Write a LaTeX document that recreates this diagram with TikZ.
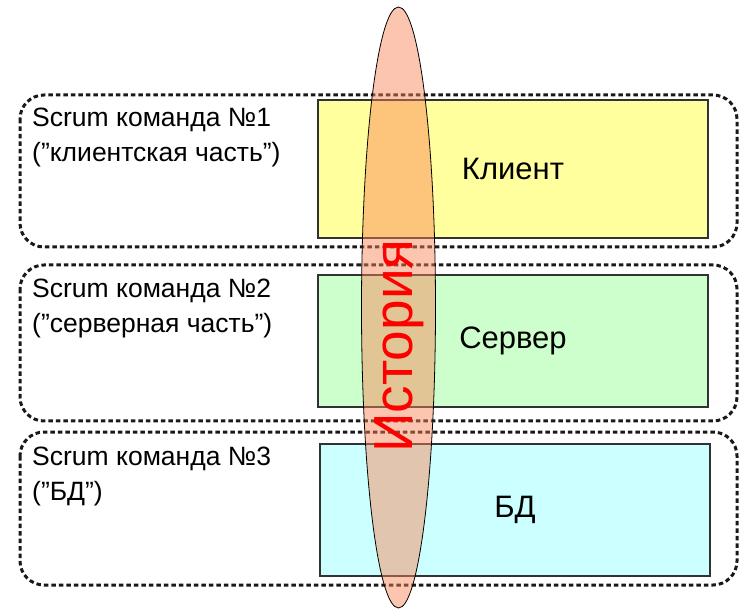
\documentclass[tikz,border=0pt]{standalone}
\usepackage{fontspec}
\setmainfont{Liberation Sans}
\usetikzlibrary{shapes.geometric}
\definecolor{teamline}{RGB}{25,25,25}
\definecolor{boxline}{RGB}{50,50,50}
\definecolor{yel}{RGB}{255,255,158}
\definecolor{grn}{RGB}{204,255,204}
\definecolor{cyn}{RGB}{204,255,255}
\definecolor{hist}{RGB}{249,132,85}
\tikzset{
  team/.style={draw=teamline, line width=3pt, dash pattern=on 4.5pt off 3pt, rounded corners=24pt},
  layer/.style={draw=boxline, line width=1.4pt, inner sep=0pt, minimum width=390pt, minimum height=138pt, font=\fontsize{31}{31}\selectfont},
  tlabel/.style={anchor=base west, inner sep=0pt, font=\fontsize{26.5}{26.5}\selectfont, text=black},
}
\begin{document}
\begin{tikzpicture}[x=1pt,y=-1pt]
\useasboundingbox (0,0) rectangle (739,609);
\fill[white] (0,0) rectangle (739,609);
% team boxes
\draw[team] (20,95) rectangle (737,247);
\draw[team] (20,265) rectangle (737,421);
\draw[team] (20,432) rectangle (737,585);
% labels
\node[tlabel] (t1a) at (32,127) {Scrum команда №1};
\node[tlabel] (t1b) at (32,162) {(”клиентская часть”)};
\node[tlabel] (t2a) at (32,298) {Scrum команда №2};
\node[tlabel] (t2b) at (32,333) {(”серверная часть”)};
\node[tlabel] (t3a) at (32,465) {Scrum команда №3};
\node[tlabel] (t3b) at (32,500) {(”БД”)};
% layers
\node[layer, fill=yel] (client) at (513,169) {Клиент};
\node[layer, fill=grn, minimum height=132pt] (server) at (513,341) {Сервер};
\node[layer, fill=cyn, minimum height=132pt] (db) at (515,510) {БД};
% story ellipse
\node[ellipse, draw=black, line width=0.8pt, fill=hist, fill opacity=0.47, inner sep=0pt, minimum width=74pt, minimum height=601pt] (story) at (398.5,307.5) {};
\node[rotate=90, text=red, inner sep=0pt, font=\fontsize{55}{55}\selectfont] (storytext) at (399,346) {История};
\end{tikzpicture}
\end{document}
